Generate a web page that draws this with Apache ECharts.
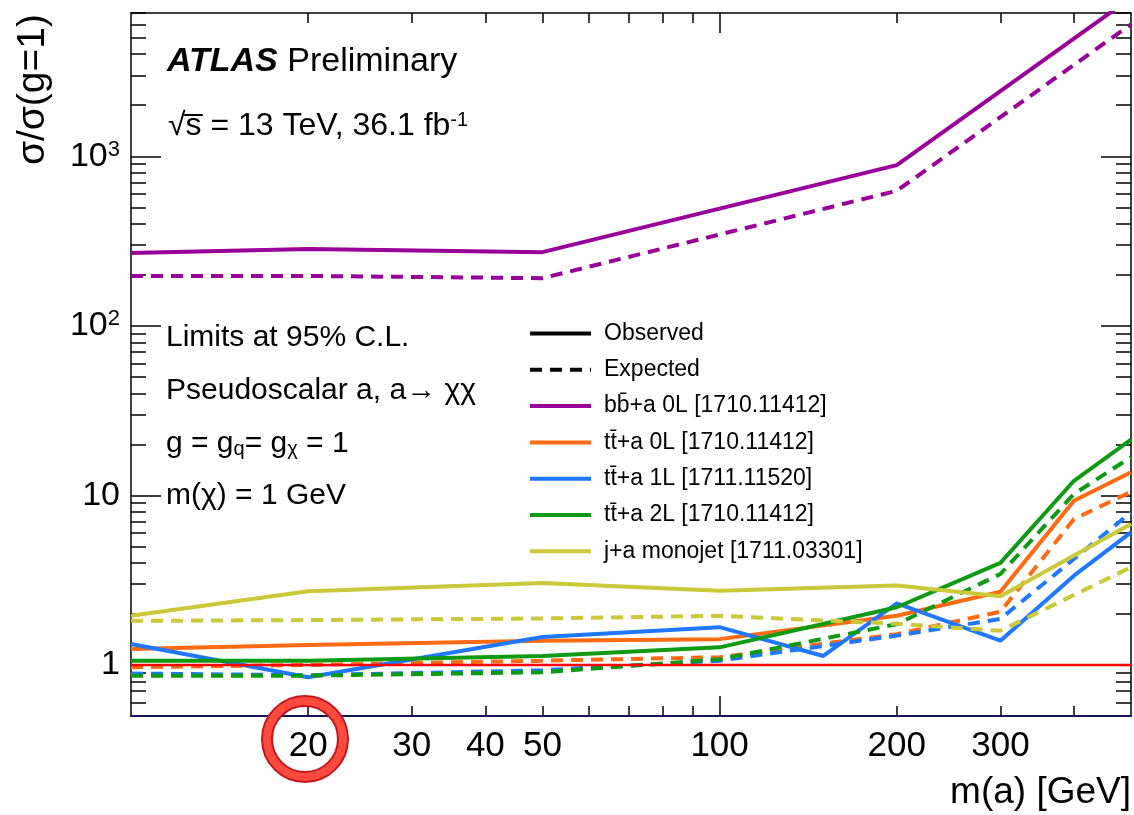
<!DOCTYPE html>
<html>
<head>
<meta charset="utf-8">
<title>ATLAS pseudoscalar mediator limits</title>
<script src="https://cdn.jsdelivr.net/npm/echarts@6/dist/echarts.min.js"></script>
<style>
  html, body { margin: 0; padding: 0; background: #fff; }
  #chart { width: 1134px; height: 815px; }
</style>
</head>
<body>
<div id="chart"></div>
<script>
// m(a) in GeV, limits on sigma/sigma(g=1)
const bbObsMass = [10, 20, 50, 200, 500];
const bbObs = [269, 284, 272, 887, 8600];
const bbExpMass = [10, 20, 50, 200, 500];
const bbExp = [197, 197, 191, 626, 6000];

const tt0ObsMass = [10, 20, 50, 100, 200, 300, 400, 500];
const tt0Obs = [1.24, 1.31, 1.39, 1.42, 1.95, 2.70, 9.3, 13.7];
const tt0ExpMass = [10, 20, 50, 100, 200, 300, 400, 500];
const tt0Exp = [0.97, 1.0, 1.06, 1.11, 1.52, 2.06, 7.26, 10.5];

const tt1ObsMass = [10, 20, 50, 100, 150, 200, 300, 400, 500];
const tt1Obs = [1.33, 0.846, 1.46, 1.67, 1.13, 2.31, 1.39, 3.36, 6.06];
const tt1ExpMass = [10, 20, 50, 100, 200, 300, 500];
const tt1Exp = [0.89, 0.87, 0.93, 1.06, 1.49, 1.87, 7.94];

const tt2ObsMass = [10, 20, 50, 100, 200, 300, 400, 500];
const tt2Obs = [1.06, 1.06, 1.13, 1.27, 2.19, 4.0, 12.2, 21.3];
const tt2ExpMass = [10, 20, 50, 100, 200, 300, 400, 500];
const tt2Exp = [0.865, 0.865, 0.905, 1.08, 1.74, 3.44, 10.2, 16.8];

const monoObsMass = [10, 20, 50, 100, 200, 300, 500];
const monoObs = [1.95, 2.72, 3.04, 2.74, 2.94, 2.54, 6.78];
const monoExpMass = [10, 20, 50, 100, 200, 300, 500];
const monoExp = [1.82, 1.84, 1.88, 1.95, 1.75, 1.59, 3.77];

const unityMass = [10, 500];
const unity = [1, 1];

// axis ticks and labels
const xMinorTicks = [20, 30, 40, 50, 60, 70, 80, 90, 200, 300, 400];
const xMajorTicks = [100];
const xTickLabels = [20, 30, 40, 50, 100, 200, 300];
const yMinorTicks = [0.6, 0.7, 0.8, 0.9, 2, 3, 4, 5, 6, 7, 8, 9, 20, 30, 40, 50, 60, 70, 80, 90,
  200, 300, 400, 500, 600, 700, 800, 900, 2000, 3000, 4000, 5000, 6000, 7000];
const yMajorTicks = [1, 10, 100, 1000];
const yTickLabels = [1, 10, 100, 1000];

const legendNames = ['Observed', 'Expected', 'bb\u0304+a 0L [1710.11412]', 'tt\u0304+a 0L [1710.11412]',
  'tt\u0304+a 1L [1711.11520]', 'tt\u0304+a 2L [1710.11412]', 'j+a monojet [1711.03301]'];

const FONT = '"Liberation Sans", Arial, Helvetica, sans-serif';

function pairs(ms, vs) {
  return ms.map((m, i) => [m, vs[i]]);
}

function limitLine(name, color, ms, vs, dashed) {
  return {
    name: name,
    type: 'line',
    data: pairs(ms, vs),
    symbol: 'none',
    silent: true,
    clip: true,
    lineStyle: { color: color, width: 4, type: dashed ? [12, 8] : 'solid' },
    itemStyle: { color: color },
    emphasis: { disabled: true }
  };
}

function xAx(pos, ticks, len, extra) {
  return Object.assign({
    type: 'log', logBase: 10, min: 10, max: 500, position: pos,
    axisLine: { show: true, lineStyle: { color: '#000', width: 1.5 } },
    axisTick: { show: true, inside: true, length: len, customValues: ticks, lineStyle: { color: '#000', width: 1.5 } },
    axisLabel: { show: false },
    splitLine: { show: false }
  }, extra || {});
}

function yAx(pos, ticks, len, extra) {
  return Object.assign({
    type: 'log', logBase: 10, min: 0.5, max: 7000, position: pos,
    axisLine: { show: true, lineStyle: { color: '#000', width: 1.5 } },
    axisTick: { show: true, inside: true, length: len, customValues: ticks, lineStyle: { color: '#000', width: 1.5 } },
    axisLabel: { show: false },
    splitLine: { show: false }
  }, extra || {});
}

const chart = echarts.init(document.getElementById('chart'));

const colors = {
  bb: '#990099',
  tt0: '#ff6a13',
  tt1: '#1f78ff',
  tt2: '#0f9a14',
  mono: '#c9c93a'
};

chart.setOption({
  animation: false,
  backgroundColor: '#fff',
  grid: { left: 131, right: 3, top: 13, bottom: 99 },
  xAxis: [
    xAx('bottom', xMinorTicks, 10, {
      axisLine: { show: true, lineStyle: { color: '#14145a', width: 2 } },
      axisLabel: {
        show: true, customValues: xTickLabels, color: '#000', fontSize: 35,
        fontFamily: FONT, margin: 13
      }
    }),
    xAx('bottom', xMajorTicks, 20, { axisLine: { show: false } }),
    xAx('top', xMinorTicks, 10),
    xAx('top', xMajorTicks, 20, { axisLine: { show: false } })
  ],
  yAxis: [
    yAx('left', yMinorTicks, 15),
    yAx('left', yMajorTicks, 30, {
      axisLine: { show: false },
      axisLabel: {
        show: true, customValues: yTickLabels, color: '#000', fontSize: 34,
        fontFamily: FONT, margin: 11,
        formatter: function (v) {
          if (v >= 100) return '{b|10}{sup|' + Math.round(Math.log10(v)) + '}';
          return '{b|' + v + '}';
        },
        rich: {
          b: { fontSize: 34, fontFamily: FONT, color: '#000', lineHeight: 35 },
          sup: { fontSize: 22, fontFamily: FONT, color: '#000', lineHeight: 22, verticalAlign: 'top' }
        }
      }
    }),
    yAx('right', yMinorTicks, 15),
    yAx('right', yMajorTicks, 30, { axisLine: { show: false } })
  ],
  legend: {
    orient: 'vertical',
    left: 528,
    top: 322,
    padding: 0,
    itemWidth: 61,
    itemHeight: 14,
    itemGap: 13.3,
    selectedMode: false,
    lineStyle: { width: 4 },
    itemStyle: { color: 'transparent', borderColor: 'transparent', borderWidth: 0, opacity: 0 },
    textStyle: { fontSize: 23, lineHeight: 22, color: '#000', fontFamily: FONT, padding: [0, 0, 0, 8] },
    data: legendNames
  },
  series: [
    limitLine('Observed', '#000', [], [], false),
    limitLine('Expected', '#000', [], [], true),
    limitLine(legendNames[2], colors.bb, bbObsMass, bbObs, false),
    limitLine('bb exp', colors.bb, bbExpMass, bbExp, true),
    limitLine(legendNames[3], colors.tt0, tt0ObsMass, tt0Obs, false),
    limitLine('tt0L exp', colors.tt0, tt0ExpMass, tt0Exp, true),
    limitLine(legendNames[4], colors.tt1, tt1ObsMass, tt1Obs, false),
    limitLine('tt1L exp', colors.tt1, tt1ExpMass, tt1Exp, true),
    limitLine(legendNames[5], colors.tt2, tt2ObsMass, tt2Obs, false),
    limitLine('tt2L exp', colors.tt2, tt2ExpMass, tt2Exp, true),
    limitLine(legendNames[6], colors.mono, monoObsMass, monoObs, false),
    limitLine('mono exp', colors.mono, monoExpMass, monoExp, true),
    Object.assign(limitLine('unity', '#ff0000', unityMass, unity, false), {
      lineStyle: { color: '#ff0000', width: 2.5 }, z: 5
    })
  ],
  graphic: [
    {
      type: 'text', x: 33, y: 14, rotation: Math.PI / 2,
      style: { text: 'σ/σ(g=1)', fontSize: 39, fontFamily: FONT, fill: '#000', align: 'right', verticalAlign: 'middle' }
    },
    {
      type: 'text', x: 1131, y: 793,
      style: { text: 'm(a) [GeV]', fontSize: 37, fontFamily: FONT, fill: '#000', align: 'right', verticalAlign: 'middle' }
    },
    {
      type: 'text', x: 167, y: 62,
      style: {
        text: '{b|ATLAS} Preliminary', fontSize: 34, fontFamily: FONT, fill: '#000', verticalAlign: 'middle',
        rich: { b: { fontSize: 34, fontFamily: FONT, fontWeight: 'bold', fontStyle: 'italic', fill: '#000' } }
      }
    },
    {
      type: 'text', x: 168, y: 126,
      style: {
        text: '\u221As\u0305 = 13 TeV, 36.1 fb{sup|-1}', fontSize: 32, fontFamily: FONT, fill: '#000', verticalAlign: 'middle',
        rich: { sup: { fontSize: 20, fontFamily: FONT, fill: '#000', verticalAlign: 'top', lineHeight: 20 } }
      }
    },
    {
      type: 'text', x: 166, y: 338,
      style: { text: 'Limits at 95% C.L.', fontSize: 30, fontFamily: FONT, fill: '#000', verticalAlign: 'middle' }
    },
    {
      type: 'text', x: 166, y: 391,
      style: { text: 'Pseudoscalar a, a\u2192 \u03C7\u03C7', fontSize: 30, fontFamily: FONT, fill: '#000', verticalAlign: 'middle' }
    },
    {
      type: 'text', x: 166, y: 444,
      style: {
        text: 'g = g{sub|q}= g{sub|\u03C7} = 1', fontSize: 30, fontFamily: FONT, fill: '#000', verticalAlign: 'middle',
        rich: { sub: { fontSize: 20, fontFamily: FONT, fill: '#000', verticalAlign: 'bottom', lineHeight: 20 } }
      }
    },
    {
      type: 'text', x: 166, y: 496,
      style: { text: 'm(\u03C7) = 1 GeV', fontSize: 30, fontFamily: FONT, fill: '#000', verticalAlign: 'middle' }
    },
    // red highlight ring around the 20 GeV label
    {
      type: 'circle', shape: { cx: 305, cy: 739, r: 38 }, z: 100,
      style: { fill: 'none', stroke: '#c4161c', lineWidth: 12 }
    },
    {
      type: 'circle', shape: { cx: 305, cy: 739, r: 38 }, z: 101,
      style: { fill: 'none', stroke: '#ff4a3d', lineWidth: 8 }
    }
  ]
});
</script>
</body>
</html>
